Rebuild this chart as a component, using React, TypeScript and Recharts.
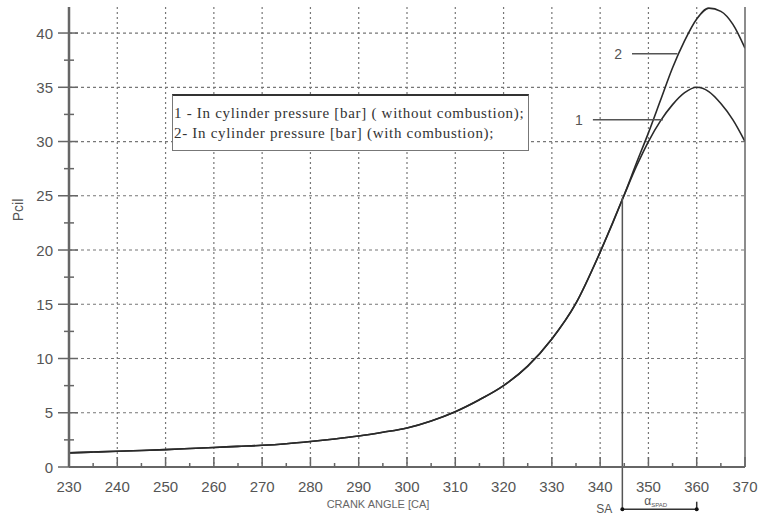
import {
  LineChart, Line, XAxis, YAxis, CartesianGrid, Legend, ReferenceLine, ReferenceDot,
} from 'recharts';

// crank angle [deg CA]
const angles = [
  230, 235, 240, 245, 250, 255, 260, 265, 270, 275, 280, 285, 290, 295, 300, 305,
  310, 315, 320, 325, 330, 335, 340, 345, 347.5, 350, 352.5, 355, 357.5, 360,
  362.5, 365, 367.5, 370,
];
// 1 - in cylinder pressure [bar], without combustion
const pressureMotored = [
  1.3, 1.38, 1.45, 1.52, 1.6, 1.7, 1.8, 1.9, 2.0, 2.15, 2.35, 2.58, 2.85, 3.2, 3.6, 4.25,
  5.1, 6.2, 7.5, 9.3, 11.8, 15.1, 19.8, 25.1, 27.7, 30.0, 31.9, 33.4, 34.5, 35.0,
  34.6, 33.5, 32.0, 30.0,
];
// 2 - in cylinder pressure [bar], with combustion
const pressureFired = [
  1.3, 1.38, 1.45, 1.52, 1.6, 1.7, 1.8, 1.9, 2.0, 2.15, 2.35, 2.58, 2.85, 3.2, 3.6, 4.25,
  5.1, 6.2, 7.5, 9.3, 11.8, 15.1, 19.8, 25.1, 28.0, 30.8, 33.8, 36.8, 39.3, 41.3,
  42.3, 42.0, 40.8, 38.6,
];

const legendLines = [
  '1 - In cylinder pressure [bar] ( without combustion);',
  '2- In cylinder pressure [bar] (with combustion);',
];

const xTicks = [
  230, 235, 240, 245, 250, 255, 260, 265, 270, 275, 280, 285, 290, 295, 300, 305,
  310, 315, 320, 325, 330, 335, 340, 345, 350, 355, 360, 365, 370,
];
const yTicks = [
  0, 2.5, 5, 7.5, 10, 12.5, 15, 17.5, 20, 22.5, 25, 27.5, 30, 32.5, 35, 37.5, 40,
];
const gridX = [240, 250, 260, 270, 280, 290, 300, 310, 320, 330, 340, 350, 360];
const gridY = [5, 10, 15, 20, 25, 30, 35, 40];

// annotations (crank angle / pressure)
const sparkAngle = 344.6;
const sparkPressure = 24.8;
const tdcAngle = 360;
const bracketLevel = -3.9;
const xTitleAngle = 294;
const xTitleLevel = -3.4;
const curveTags = [
  { name: '1', from: 338.5, to: 353, level: 32.0 },
  { name: '2', from: 346.6, to: 356, level: 38.1 },
];

const data = angles.map((a, i) => ({ angle: a, p1: pressureMotored[i], p2: pressureFired[i] }));

const AXIS = '#666';
const TEXT = '#555';
const FONT = '"Liberation Sans", Arial, sans-serif';

const isMajor = (v: number, step: number) => Math.abs(v % step) < 1e-6;

function LeftTick(props: any) {
  const { x, y, payload } = props;
  const major = isMajor(payload.value, 5);
  return (
    <g>
      <line x1={x - (major ? 11 : 5)} x2={x + (major ? 9 : 5)} y1={y} y2={y} stroke={AXIS} strokeWidth={1.5} />
      {major && (
        <text x={x - 16} y={y} textAnchor="end" dominantBaseline="central" fontSize={15} fill={TEXT} fontFamily={FONT}>
          {payload.value}
        </text>
      )}
    </g>
  );
}

// right axis: same scale, labels run off the right edge of the picture
function RightTick(props: any) {
  const { x, y, payload } = props;
  const major = isMajor(payload.value, 5);
  return (
    <g>
      <line x1={x - (major ? 8 : 5)} x2={x + (major ? 10 : 5)} y1={y} y2={y} stroke={AXIS} strokeWidth={1.5} />
      {major && (
        <text x={x + 11} y={y} textAnchor="start" dominantBaseline="central" fontSize={15} fill={TEXT} fontFamily={FONT}>
          {payload.value}
        </text>
      )}
    </g>
  );
}

function BottomTick(props: any) {
  const { x, y, payload } = props;
  const major = isMajor(payload.value, 10);
  return (
    <g>
      <line x1={x} x2={x} y1={y - (major ? 10 : 4)} y2={y} stroke={AXIS} strokeWidth={1.5} />
      {major && (
        <text x={x} y={y + 19} textAnchor="middle" dominantBaseline="central" fontSize={15} fill={TEXT} fontFamily={FONT}>
          {payload.value}
        </text>
      )}
    </g>
  );
}

function LegendBox() {
  return (
    <div
      style={{
        width: 357,
        height: 57,
        background: '#fff',
        border: '1px solid #777',
        borderTop: '2px solid #333',
        fontFamily: '"Liberation Serif", "Times New Roman", serif',
        fontSize: 15,
        letterSpacing: 0.7,
        color: '#333',
        lineHeight: '20px',
        padding: '7px 0 0 1px',
        boxSizing: 'border-box',
        whiteSpace: 'nowrap',
        textAlign: 'left',
      }}
    >
      {legendLines.map((t) => (
        <div key={t}>{t}</div>
      ))}
    </div>
  );
}

export default function App() {
  return (
    <div style={{ position: 'fixed', top: 0, left: 0, width: 768, height: 515, overflow: 'hidden', background: '#fff' }}>
      <LineChart width={780} height={515} data={data} margin={{ top: 7, right: 0, bottom: 28, left: 0 }}
        style={{ overflow: 'visible' }}>
        <CartesianGrid horizontal={false} verticalValues={gridX} stroke="#777" strokeWidth={1.2} strokeDasharray="2 3" />
        <CartesianGrid vertical={false} horizontalValues={gridY} stroke="#777" strokeWidth={1.2} strokeDasharray="3 3" />
        <XAxis
          dataKey="angle"
          type="number"
          domain={[230, 370]}
          ticks={xTicks}
          interval={0}
          tickSize={0}
          tickMargin={0}
          tick={<BottomTick />}
          axisLine={{ stroke: AXIS, strokeWidth: 2 }}
          height={20}
          allowDataOverflow
        />
        <XAxis xAxisId="top" orientation="top" type="number" domain={[230, 370]} tick={false} height={0}
          axisLine={{ stroke: AXIS, strokeWidth: 2 }} />
        <YAxis
          type="number"
          domain={[0, 42.4]}
          ticks={yTicks}
          interval={0}
          tickSize={0}
          tickMargin={0}
          tick={<LeftTick />}
          axisLine={{ stroke: AXIS, strokeWidth: 2.5 }}
          width={69}
          allowDataOverflow
          label={() => (
            <text
              x={18}
              y={210}
              transform="rotate(-90 18 210)"
              textAnchor="middle"
              dominantBaseline="central"
              fontSize={14}
              fill={TEXT}
              fontFamily={FONT}
            >
              Pcil
            </text>
          )}
        />
        <YAxis
          yAxisId="right"
          orientation="right"
          type="number"
          domain={[0, 42.4]}
          ticks={yTicks}
          interval={0}
          tickSize={0}
          tickMargin={0}
          tick={<RightTick />}
          axisLine={{ stroke: AXIS, strokeWidth: 1.5 }}
          width={35}
        />
        <Legend
          layout="horizontal"
          verticalAlign="middle"
          align="center"
          content={<LegendBox />}
          wrapperStyle={{ position: 'absolute', top: 94, left: 172, width: 'auto' }}
        />
        <Line type="monotone" dataKey="p1" name="p1" stroke="#2a2a2a" strokeWidth={1.6} dot={false} isAnimationActive={false} />
        <Line type="monotone" dataKey="p2" name="p2" stroke="#2a2a2a" strokeWidth={1.6} dot={false} isAnimationActive={false} />

        {curveTags.map((t) => (
          <ReferenceLine
            key={t.name}
            segment={[{ x: t.from, y: t.level }, { x: t.to, y: t.level }]}
            stroke="#555"
            strokeWidth={1.5}
            label={(p: any) => (
              <text x={p.viewBox.x - 10} y={p.viewBox.y} textAnchor="end" dominantBaseline="central"
                fontSize={14} fill={TEXT} fontFamily={FONT}>
                {t.name}
              </text>
            )}
          />
        ))}
        <ReferenceLine
          segment={[{ x: sparkAngle, y: bracketLevel }, { x: sparkAngle, y: sparkPressure }]}
          stroke="#555"
          strokeWidth={1.5}
          ifOverflow="visible"
        />
        <ReferenceLine
          segment={[{ x: sparkAngle, y: bracketLevel }, { x: tdcAngle, y: bracketLevel }]}
          stroke="#333"
          strokeWidth={1.5}
          ifOverflow="visible"
          label={(p: any) => (
            <g fontFamily={FONT} fill={TEXT}>
              <text x={p.viewBox.x - 10} y={p.viewBox.y} textAnchor="end" dominantBaseline="central" fontSize={12}>
                SA
              </text>
              <text x={p.viewBox.x + 22} y={p.viewBox.y - 4} fontSize={12}>
                α<tspan fontSize={6} dy={2}>SPAD</tspan>
              </text>
            </g>
          )}
        />
        <ReferenceLine
          segment={[{ x: tdcAngle, y: bracketLevel + 0.7 }, { x: tdcAngle, y: bracketLevel }]}
          stroke="#333"
          strokeWidth={1.5}
          ifOverflow="visible"
        />
        <ReferenceDot x={sparkAngle} y={bracketLevel} r={2} fill="#111" stroke="none" ifOverflow="visible" />
        <ReferenceDot x={tdcAngle} y={bracketLevel} r={2} fill="#111" stroke="none" ifOverflow="visible" />
        <ReferenceLine
          segment={[{ x: xTitleAngle, y: xTitleLevel }, { x: xTitleAngle, y: xTitleLevel }]}
          stroke="none"
          ifOverflow="visible"
          label={(p: any) => (
            <text x={p.viewBox.x} y={p.viewBox.y} textAnchor="middle" dominantBaseline="central"
              fontSize={11} fill="#666" fontFamily={FONT}>
              CRANK ANGLE [CA]
            </text>
          )}
        />
      </LineChart>
    </div>
  );
}
